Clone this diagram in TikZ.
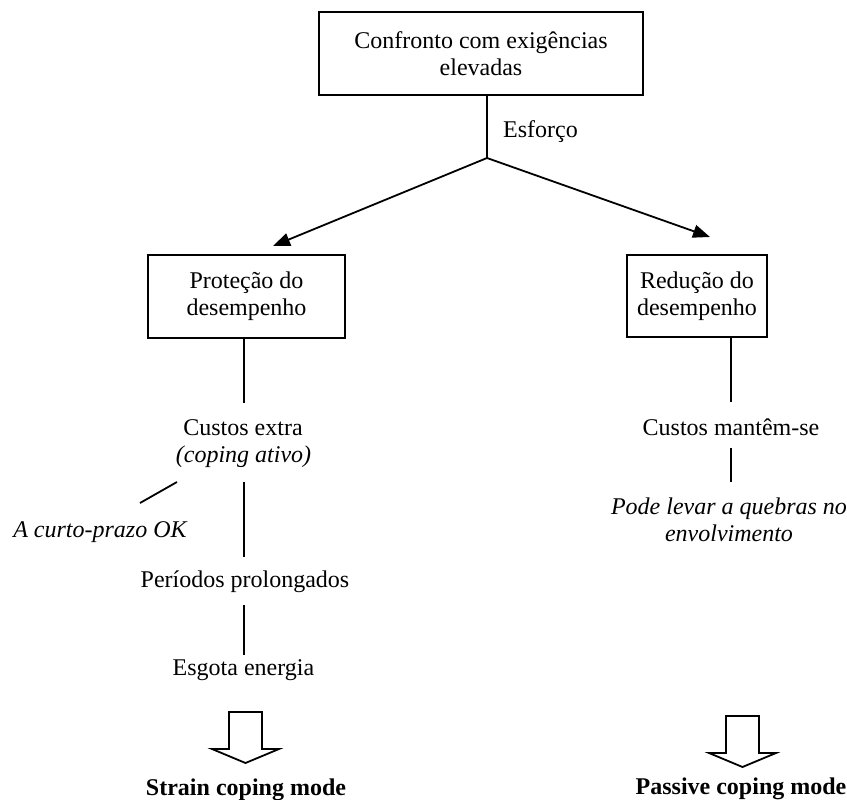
\documentclass[tikz,border=0pt]{standalone}
\usepackage{fontspec}
\setmainfont{Liberation Serif}
\usetikzlibrary{arrows.meta}
\begin{document}
\begin{tikzpicture}[x=1pt,y=-1pt,
  every node/.style={font=\fontsize{24}{27}\selectfont, inner sep=0pt},
  box/.style={draw, line width=1.8pt, align=center},
  txt/.style={anchor=base, align=center},
  ln/.style={line width=1.8pt},
  arr/.style={line width=1.8pt, -{Triangle[length=17pt,width=13pt]}},
  blockarrow/.style={draw, line width=1.8pt, line join=miter}]
\useasboundingbox (0,0) rectangle (847,800);

% top
\node[box, minimum width=324pt, minimum height=83pt] (top) at (481,53.5) {Confronto com exigências\\elevadas};
\node[txt, anchor=base west] (esf) at (503,137) {Esforço};
\coordinate (split) at (487,158);
\draw[ln] (top.south -| split) -- (split);
\coordinate (tipL) at (273,246);
\coordinate (tipR) at (710,237);
\draw[arr] (split) -- (tipL);
\draw[arr] (split) -- (tipR);

% left branch
\node[box, minimum width=197pt, minimum height=83pt] (prot) at (246.5,296.5) {Proteção do\\desempenho};
\coordinate (l1) at (244,403);
\draw[ln] (prot.south -| l1) -- (l1);
\node[txt] (ce) at (243,435) {Custos extra};
\node[txt] (ca) at (243.5,462) {\itshape (coping ativo)};
\coordinate (d1) at (177,482);
\coordinate (d2) at (140,503);
\draw[ln] (d1) -- (d2);
\node[txt] (ok) at (100,537) {\itshape A curto-prazo OK};
\coordinate (l2a) at (244,482);
\coordinate (l2b) at (244,557);
\draw[ln] (l2a) -- (l2b);
\node[txt] (pp) at (245,587) {Períodos prolongados};
\coordinate (l3a) at (244,605);
\coordinate (l3b) at (244,655);
\draw[ln] (l3a) -- (l3b);
\node[txt] (ee) at (243.5,675) {Esgota energia};
\draw[blockarrow] (229,712) -- (262,712) -- (262,749) -- (279,749) -- (245.5,763) -- (212,749) -- (229,749) -- cycle;
\node[txt] (scm) at (246,795) {\bfseries Strain coping mode};

% right branch
\node[box, minimum width=140pt, minimum height=82pt] (red) at (697,296) {Redução do\\desempenho};
\coordinate (r1) at (731,402);
\draw[ln] (red.south -| r1) -- (r1);
\node[txt] (cm) at (731,435) {Custos mantêm-se};
\coordinate (r2a) at (731,448);
\coordinate (r2b) at (731,482);
\draw[ln] (r2a) -- (r2b);
\node[txt] (pl) at (729,541) {\itshape Pode levar a quebras no\\\itshape envolvimento};
\draw[blockarrow] (726,716) -- (759,716) -- (759,753) -- (776,753) -- (742.5,767) -- (709,753) -- (726,753) -- cycle;
\node[txt] (pcm) at (741,794) {\bfseries Passive coping mode};
\end{tikzpicture}
\end{document}
